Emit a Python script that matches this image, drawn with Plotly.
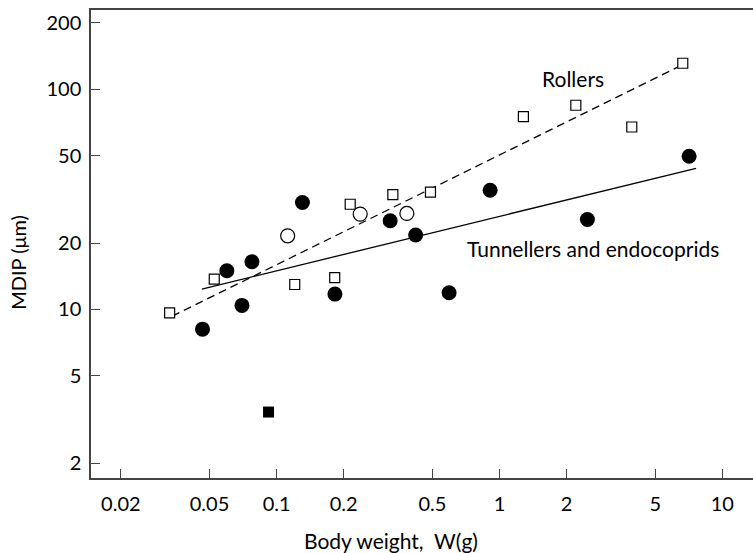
import math
import plotly.graph_objects as go

# ---- data ----
rollers_w = [0.0331, 0.0525, 0.1206, 0.1823, 0.2139, 0.3324, 0.4903, 1.281, 2.202, 3.926, 6.65]
rollers_mdip = [9.65, 13.73, 12.98, 13.95, 30.04, 33.2, 34.1, 75.1, 84.6, 67.4, 131.3]

open_circ_w = [0.1121, 0.2372, 0.3842]
open_circ_mdip = [21.6, 27.1, 27.3]

tunnel_w = [0.0465, 0.0598, 0.0699, 0.0775, 0.1306, 0.1827, 0.3233, 0.4207, 0.5945, 0.9085, 2.482, 7.10]
tunnel_mdip = [8.14, 14.98, 10.43, 16.46, 30.6, 11.74, 25.3, 21.8, 11.9, 34.8, 25.6, 49.6]

filled_sq_w = [0.0920]
filled_sq_mdip = [3.42]

# fitted regression lines (endpoints)
roll_fit_w = [0.0340, 6.34]
roll_fit_mdip = [9.32, 126.3]
tun_fit_w = [0.0462, 7.63]
tun_fit_mdip = [12.37, 43.75]

x_ticks = [0.02, 0.05, 0.1, 0.2, 0.5, 1, 2, 5, 10]
x_ticktext = ["0.02", "0.05", "0.1", "0.2", "0.5", "1", "2", "5", "10"]
y_ticks = [2, 5, 10, 20, 50, 100, 200]
y_ticktext = ["2", "5", "10", "20", "50", "100", "200"]

FONT = "Lato, 'Open Sans', sans-serif"

fig = go.Figure()

fig.add_trace(go.Scatter(x=roll_fit_w, y=roll_fit_mdip, mode="lines",
                         line=dict(color="black", width=1.3, dash="8px,5px"),
                         showlegend=False, hoverinfo="skip"))
fig.add_trace(go.Scatter(x=tun_fit_w, y=tun_fit_mdip, mode="lines",
                         line=dict(color="black", width=1.3),
                         showlegend=False, hoverinfo="skip"))

fig.add_trace(go.Scatter(x=rollers_w, y=rollers_mdip, mode="markers",
                         marker=dict(symbol="square", size=10, color="white",
                                     line=dict(color="black", width=1.2)),
                         showlegend=False))
fig.add_trace(go.Scatter(x=open_circ_w, y=open_circ_mdip, mode="markers",
                         marker=dict(symbol="circle", size=14, color="white",
                                     line=dict(color="black", width=1.2)),
                         showlegend=False))
fig.add_trace(go.Scatter(x=tunnel_w, y=tunnel_mdip, mode="markers",
                         marker=dict(symbol="circle", size=15, color="black",
                                     line=dict(color="black", width=0)),
                         showlegend=False))
fig.add_trace(go.Scatter(x=filled_sq_w, y=filled_sq_mdip, mode="markers",
                         marker=dict(symbol="square", size=11, color="black",
                                     line=dict(color="black", width=0)),
                         showlegend=False))

axis_common = dict(
    type="log", showgrid=False, zeroline=False,
    showline=True, linecolor="#444", linewidth=1.5,
    ticks="inside", ticklen=9, tickwidth=1.3, tickcolor="#444",
    tickfont=dict(family=FONT, size=20, color="black"),
)

fig.update_xaxes(range=[-1.833, 1.138], tickvals=x_ticks, ticktext=x_ticktext,
                 mirror=True, ticklabelstandoff=7, **axis_common)
fig.update_yaxes(range=[0.2345, 2.360], tickvals=y_ticks, ticktext=y_ticktext,
                 mirror=False, ticklabelstandoff=4, **axis_common)

fig.add_annotation(x=math.log10(2.135), y=math.log10(111.4), xref="x", yref="y",
                   text="Rollers", showarrow=False, xanchor="center", yanchor="middle",
                   font=dict(family=FONT, size=21, color="black"))
fig.add_annotation(x=math.log10(0.702), y=math.log10(18.93), xref="x", yref="y",
                   text="Tunnellers and endocoprids", showarrow=False,
                   xanchor="left", yanchor="middle",
                   font=dict(family=FONT, size=21, color="black"))
fig.add_annotation(x=0.4532, y=-0.1325, xref="paper", yref="paper",
                   text="Body weight,  W(g)", showarrow=False,
                   xanchor="center", yanchor="middle",
                   font=dict(family=FONT, size=21, color="black"))
fig.add_annotation(x=-0.1098, y=0.4605, xref="paper", yref="paper",
                   text="MDIP (μm)", showarrow=False, textangle=-90,
                   xanchor="center", yanchor="middle",
                   font=dict(family=FONT, size=20, color="black"))

fig.update_layout(
    width=753, height=553,
    margin=dict(l=91, r=0, t=10, b=75),
    paper_bgcolor="white", plot_bgcolor="white",
    font=dict(family=FONT, color="black"),
    showlegend=False,
)

fig.write_html("out.html",
               config={"displayModeBar": False},
               post_script="document.body.style.margin='0';document.body.style.overflow='hidden';")
